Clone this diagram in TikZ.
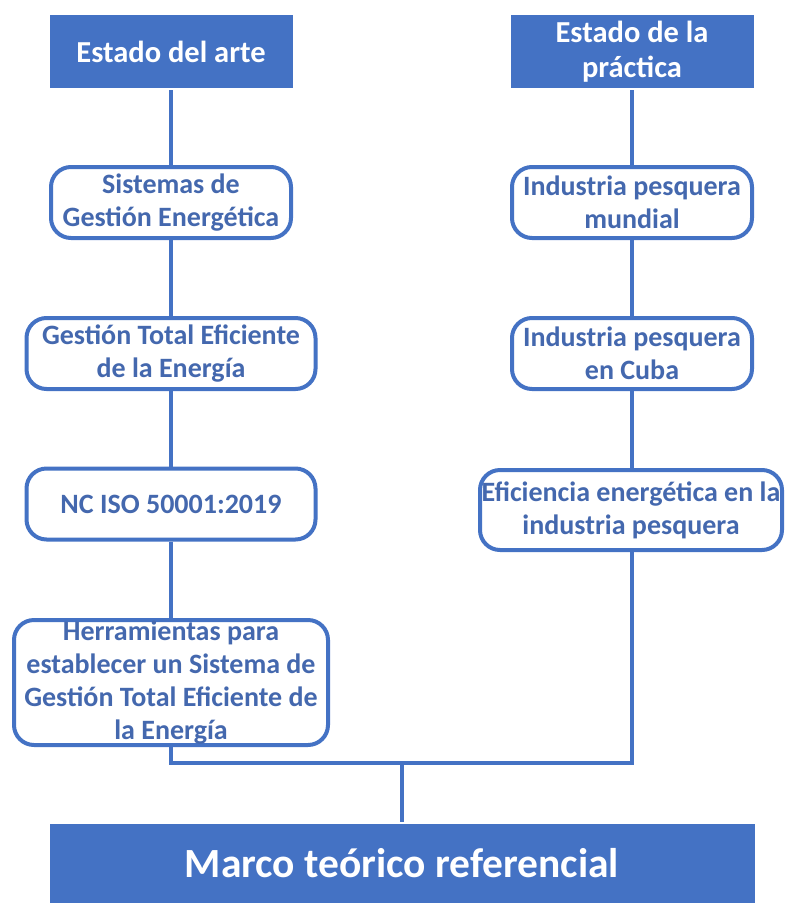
\documentclass[tikz,border=0pt]{standalone}
\usepackage{fontspec}
\setmainfont{Carlito}
\usepackage{tikz}
\definecolor{boxblue}{HTML}{4472C4}
\definecolor{txtblue}{HTML}{4468AE}

\begin{document}
\begin{tikzpicture}[x=1pt, y=-1pt, line width=4pt,
	hdr/.style={fill=boxblue, draw=none, text=white, font=\fontsize{30.5}{35}\selectfont\bfseries, align=center, inner sep=0pt, minimum width=243pt, minimum height=73pt},
	item/.style={draw=boxblue, fill=white, rounded corners=20pt, text=txtblue, font=\fontsize{28}{33}\selectfont\bfseries, align=center, inner sep=0pt, minimum height=71pt},
	link/.style={draw=boxblue, line width=4pt}]
	\useasboundingbox (0,0) rectangle (785,903);
	\node[hdr] (arte) at (171,51.5) {Estado del arte};
	\node[hdr] (prac) at (632,51.5) {Estado de la\\práctica};
	\node[item, minimum width=240pt] (sge) at (171,202.5) {Sistemas de\\Gestión Energética};
	\node[item, minimum width=289pt] (gtee) at (171,353.5) {Gestión Total Eficiente\\de la Energía};
	\node[item, minimum width=289pt] (iso) at (171,504) {NC ISO 50001:2019};
	\node[item, minimum width=314pt, minimum height=125pt] (herr) at (171,682.5) {Herramientas para\\establecer un Sistema de\\Gestión Total Eficiente de\\la Energía};
	\node[item, minimum width=240pt] (mund) at (632,202.5) {Industria pesquera\\mundial};
	\node[item, minimum width=240pt] (cuba) at (632,353.5) {Industria pesquera\\en Cuba};
	\node[item, minimum width=302pt, minimum height=80pt] (efic) at (631,510) {Eficiencia energética en la\\industria pesquera};
	\node[hdr, minimum width=705pt, minimum height=79pt, font=\fontsize{41.5}{48}\selectfont\bfseries] (marco) at (402,863.5) {Marco teórico referencial};
	\coordinate (bus) at (402,763);
	\draw[link] (arte) -- (sge);
	\draw[link] (sge) -- (gtee);
	\draw[link] (gtee) -- (iso);
	\draw[link] (iso) -- (herr);
	\draw[link] (prac) -- (mund);
	\draw[link] (mund) -- (cuba);
	\draw[link] (cuba.south) -- (cuba.south |- efic.north);
	\draw[link] (herr.south) |- (bus) -| (cuba.south |- efic.south);
	\draw[link] (bus) -- (marco.north);
\end{tikzpicture}
\end{document}
